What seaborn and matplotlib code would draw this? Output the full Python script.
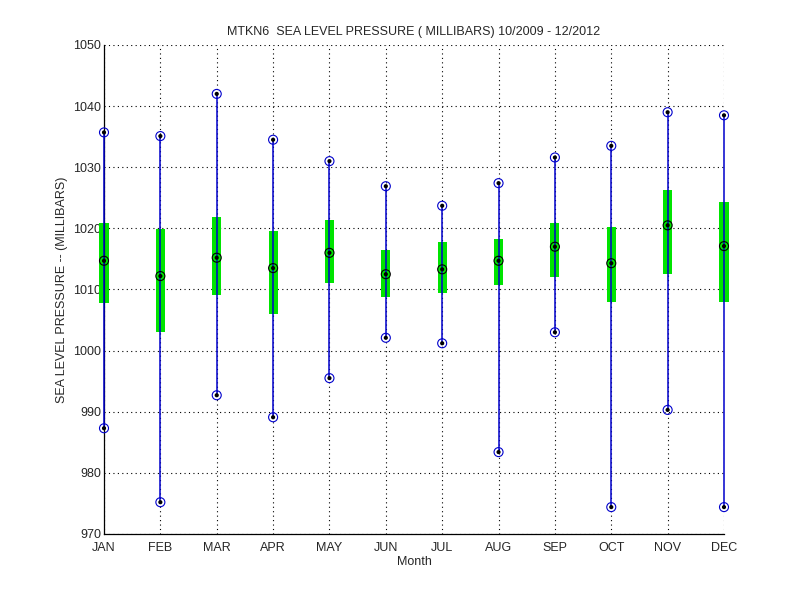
import numpy as np
import pandas as pd
import matplotlib
matplotlib.use("Agg")
import matplotlib.pyplot as plt
import seaborn as sns

# monthly sea level pressure stats (millibars)
months = ["JAN", "FEB", "MAR", "APR", "MAY", "JUN", "JUL", "AUG", "SEP", "OCT", "NOV", "DEC"]
p_max = [1035.7, 1035.1, 1042.0, 1034.5, 1031.0, 1026.9, 1023.7, 1027.4, 1031.6, 1033.5, 1039.0, 1038.5]
p_mean = [1014.7, 1012.2, 1015.2, 1013.5, 1016.0, 1012.5, 1013.3, 1014.7, 1017.0, 1014.3, 1020.5, 1017.1]
p_min = [987.3, 975.2, 992.7, 989.1, 995.5, 1002.1, 1001.2, 983.4, 1003.0, 974.4, 990.3, 974.4]
box_hi = [1020.9, 1019.9, 1021.9, 1019.6, 1021.4, 1016.5, 1017.8, 1018.3, 1020.9, 1020.2, 1026.3, 1024.3]
box_lo = [1007.8, 1003.0, 1009.1, 1006.0, 1011.1, 1008.8, 1009.4, 1010.7, 1012.0, 1008.0, 1012.5, 1008.0]

df = pd.DataFrame({
    "month": np.arange(1, 13),
    "max": p_max, "mean": p_mean, "min": p_min,
    "hi": box_hi, "lo": box_lo,
})
ext = pd.concat([df[["month", "max"]].rename(columns={"max": "p"}),
                 df[["month", "min"]].rename(columns={"min": "p"})])

sns.set_style("white")
plt.rcParams["font.family"] = ["Liberation Sans", "DejaVu Sans"]
plt.rcParams["font.size"] = 9

fig = plt.figure(figsize=(8, 6), dpi=100)
ax = fig.add_axes([0.13, 0.11, 0.775, 0.815])

# green boxes, then blue range line, then markers (not clipped at JAN/DEC)
ax.bar(df["month"], df["hi"] - df["lo"], bottom=df["lo"], width=0.16,
       color="#00e400", edgecolor="none", zorder=2, clip_on=False)
ax.vlines(df["month"], df["min"], df["max"], color="#0000cc", lw=1.1, zorder=3, clip_on=False)

sns.scatterplot(data=ext, x="month", y="p", marker="o", s=42, facecolors="none",
                edgecolor="#0000cc", linewidth=0.8, ax=ax, zorder=4, clip_on=False)
sns.scatterplot(data=df, x="month", y="mean", marker="o", s=42, facecolors="none",
                edgecolor="black", linewidth=0.8, ax=ax, zorder=4, clip_on=False)
sns.scatterplot(data=ext, x="month", y="p", marker="o", s=9, color="black",
                edgecolor="none", ax=ax, zorder=5, clip_on=False)
sns.scatterplot(data=df, x="month", y="mean", marker="o", s=9, color="black",
                edgecolor="none", ax=ax, zorder=5, clip_on=False)

ax.set_xlim(1, 12)
ax.set_ylim(970, 1050)
ax.set_xticks(df["month"])
ax.set_xticklabels(months)
ax.set_yticks(np.arange(970, 1051, 10))
ax.tick_params(direction="in", length=4, width=0.8, labelsize=9)
ax.tick_params(axis="x", pad=5.5)
ax.tick_params(axis="y", pad=2)
ax.grid(True, linestyle=(0, (1, 3)), color="black", linewidth=0.8)
ax.set_axisbelow(True)

sns.despine(ax=ax, top=True, right=True)
for side in ("left", "bottom"):
    ax.spines[side].set_linewidth(0.9)
    ax.spines[side].set_color("black")

ax.set_title("MTKN6  SEA LEVEL PRESSURE ( MILLIBARS) 10/2009 - 12/2012", fontsize=9, pad=7)
ax.set_xlabel("Month", fontsize=9, labelpad=2)
ax.set_ylabel("SEA LEVEL PRESSURE -- (MILLIBARS)", fontsize=9, labelpad=4)

fig.savefig("out.png", dpi=100)
